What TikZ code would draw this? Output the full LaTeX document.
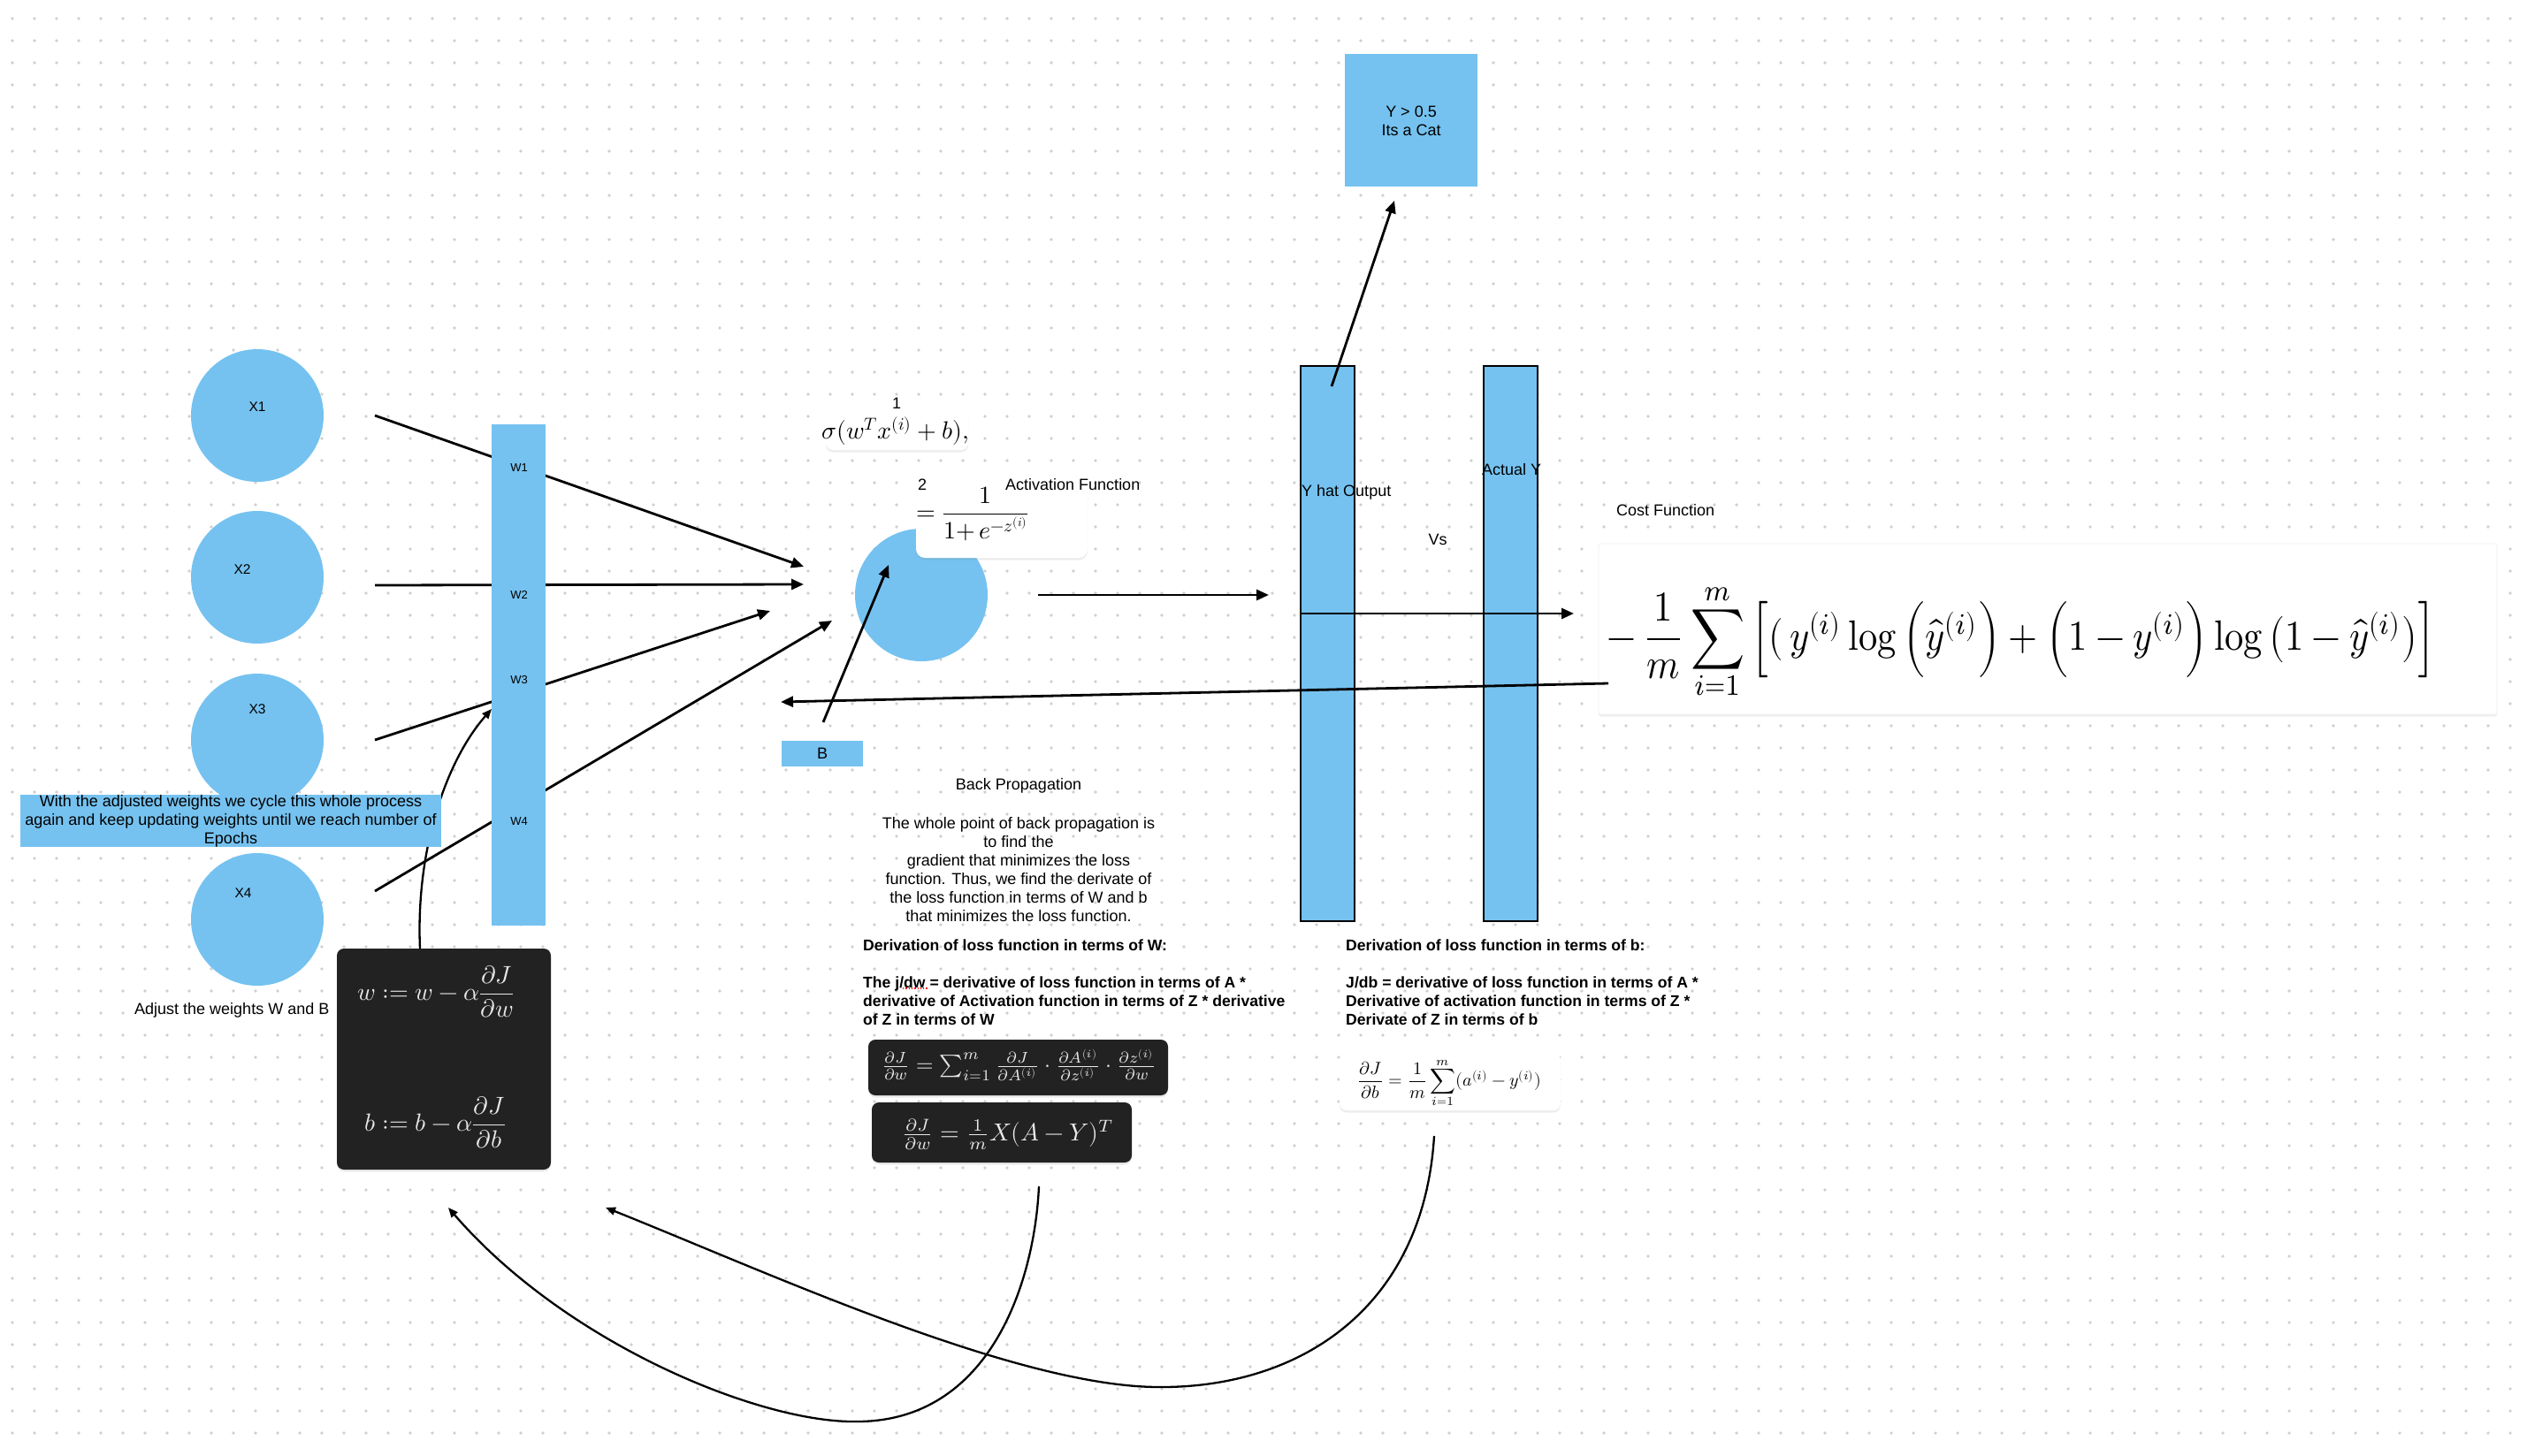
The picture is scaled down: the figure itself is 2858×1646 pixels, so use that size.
\documentclass[tikz,border=0pt]{standalone}
\usepackage{graphicx}
\usepackage{unicode-math}
\setmainfont{Liberation Sans}
\usetikzlibrary{arrows.meta,shadows}
\definecolor{bluec}{HTML}{75C2F0}
\definecolor{darkc}{HTML}{222222}
\definecolor{dotc}{HTML}{CFCFCF}
\definecolor{mathw}{HTML}{E8E8E8}
\newcommand\mylog{\mathop{\symup{log}}\nolimits}
\begin{document}
\begin{tikzpicture}[x=1pt,y=-1pt,
  txt/.style={inner sep=0pt, font=\fontsize{18}{21}\selectfont},
  xlab/.style={inner sep=0pt, font=\fontsize{15.5}{18}\selectfont},
  wlab/.style={inner sep=0pt, font=\fontsize{13}{15}\selectfont},
  btxt/.style={inner sep=0pt, font=\fontsize{17.6}{21}\selectfont\bfseries, align=left},
  bluecirc/.style={circle, fill=bluec, minimum size=150pt, inner sep=0pt},
  bluebox/.style={fill=bluec, inner sep=0pt},
  barbox/.style={fill=bluec, draw=black, line width=1.3pt, inner sep=0pt},
  whitebox/.style={fill=white, rounded corners=8pt, inner sep=0pt,
     drop shadow={opacity=0.14, shadow xshift=0pt, shadow yshift=-2.5pt}},
  darkbox/.style={fill=darkc, rounded corners=8pt, inner sep=0pt,
     drop shadow={opacity=0.15, shadow xshift=0pt, shadow yshift=-2.5pt}},
  conn/.style={line width=2.8pt, -{Triangle[length=14pt,width=12pt]}},
  curv/.style={line width=2.3pt, -{Triangle[length=11pt,width=9pt]}},
  mth/.style={inner sep=0pt},
  dmth/.style={inner sep=0pt, text=mathw},
  dotrow/.style={dotc, line width=3.6pt, line cap=round, dash pattern=on 0pt off 25pt},
]
\useasboundingbox (0,0) rectangle (2858,1646);
\fill[white] (0,0) rectangle (2858,1646);
% dot grid
\foreach \j in {0,...,64}{
  \draw[dotrow] (14,21+25*\j) -- (2852,21+25*\j);
}
% coordinates for free ends
\coordinate (s1) at (424,470);  \coordinate (t1) at (909,641);
\coordinate (s2) at (424,662);  \coordinate (t2) at (909,661);
\coordinate (s3) at (424,837);  \coordinate (t3) at (871,691);
\coordinate (s4) at (424,1008); \coordinate (t4) at (941,702);
% input lines (under the W bar)
\draw[conn] (s1) -- (t1);
\draw[conn] (s2) -- (t2);
\draw[conn] (s3) -- (t3);
\draw[conn] (s4) -- (t4);
% input circles
\node[bluecirc] (x1) at (291,470) {};
\node[bluecirc] (x2) at (291,653) {};
\node[bluecirc] (x3) at (291,837) {};
\node[bluecirc] (x4) at (291,1040) {};
\node[xlab] (x1l) at (291,460) {X1};
\node[xlab] (x2l) at (274,644) {X2};
\node[xlab] (x3l) at (291,802) {X3};
\node[xlab] (x4l) at (275,1010) {X4};
% weight bar
\node[bluebox, minimum width=61pt, minimum height=567pt] (wbar) at (586.5,763.5) {};
\node[wlab] (w1) at (587,529) {W1};
\node[wlab] (w2) at (587,673) {W2};
\node[wlab] (w3) at (587,769) {W3};
\node[wlab] (w4) at (587,929) {W4};
% update box and curve to the W bar
\node[darkbox, minimum width=242pt, minimum height=250pt] (upd) at (502,1198) {};
\node[dmth] (updw) at (493,1122) {\fontsize{28}{30}\selectfont$w := w-\alpha\dfrac{\partial J}{\partial w}$};
\node[dmth] (updb) at (492,1270) {\fontsize{28}{30}\selectfont$b := b-\alpha\dfrac{\partial J}{\partial b}$};
\coordinate (us) at (475,1073);
\coordinate (ut) at (556,802);
\draw[curv] (us) .. controls (470,960) and (505,860) .. (ut);
% cycle text box
\node[bluebox, minimum width=476pt, minimum height=59pt] (cyc) at (261,928.5) {};
\node[txt, align=center] (cyct) at (261,929) {With the adjusted weights we cycle this whole process\\again and keep updating weights until we reach number of\\Epochs};
\node[txt, anchor=west] (adj) at (152,1143) {Adjust the weights W and B};
% neuron
\node[bluecirc] (neuron) at (1042,673) {};
\node[whitebox, minimum width=161pt, minimum height=45pt] (sigbox) at (1014.5,486.5) {};
\node[mth] (sig) at (1013,488) {\fontsize{28}{30}\selectfont$\sigma(w^{T}x^{(i)}+b),$};
\node[txt] (n1) at (1014,456) {1};
\node[whitebox, rounded corners=10pt, minimum width=194pt, minimum height=108pt] (actbox) at (1133,577) {};
\node[txt] (n2) at (1043,548) {2};
\node[mth] (act) at (1100,581) {\fontsize{28}{30}\selectfont$=\dfrac{1}{1{+}\,e^{-z^{(i)}}}$};
\node[txt, anchor=west] (actl) at (1137,548) {Activation Function};
% bias
\node[bluebox, minimum width=92pt, minimum height=29pt] (bbox) at (930,852.5) {};
\node[txt] (bl) at (930,852.5) {B};
\coordinate (bs) at (931,817);
\coordinate (bt) at (1005,639);
\draw[conn] (bs) -- (bt);
% neuron output
\coordinate (os) at (1174,673);
\coordinate (ot) at (1435,673);
\draw[conn] (os) -- (ot);
% output bars
\node[barbox, minimum width=61pt, minimum height=628pt] (yhat) at (1501.5,728) {};
\node[barbox, minimum width=61pt, minimum height=628pt] (ybar) at (1708.5,728) {};
\node[txt, anchor=west] (yhatl) at (1472,557) {Y hat Output};
\node[txt] (ybarl) at (1709.5,531) {Actual Y};
\node[txt] (vs) at (1626,610) {Vs};
% cat box
\node[bluebox, minimum size=150pt] (cat) at (1596,136) {};
\node[txt, align=center] (catl) at (1596,137) {Y > 0.5\\Its a Cat};
\coordinate (cs) at (1506,437);
\coordinate (ct) at (1577,227);
\draw[conn] (cs) -- (ct);
% cost function
\node[txt, anchor=west] (costl) at (1828,577) {Cost Function};
\node[fill=white, draw=black!6, line width=0.8pt, rounded corners=2pt, inner sep=0pt,
      minimum width=1016pt, minimum height=193pt,
      drop shadow={opacity=0.12, shadow xshift=0pt, shadow yshift=-2.5pt}] (costbox) at (2316,711.5) {};
\node[mth] (cost) at (2286,726) {\resizebox*{937pt}{134pt}{$\displaystyle -\,\frac{1}{m}\sum_{i=1}^{m}\Big[(\,y^{(i)}\mylog\Big(\hat{y}^{(i)}\Big)+\Big(1-y^{(i)}\Big)\mylog\big(1-\hat{y}^{(i)}\big)\Big]$}};
\coordinate (fs) at (1472,694);
\coordinate (ft) at (1780,694);
\draw[conn] (fs) -- (ft);
\coordinate (rs) at (1819,773);
\coordinate (rt) at (883,794);
\draw[conn] (rs) -- (rt);
% back propagation text
\node[txt] (bp) at (1152,889) {Back Propagation};
\node[txt, align=center] (bpt) at (1152,983.5) {The whole point of back propagation is\\to find the\\gradient that minimizes the loss\\function. Thus, we find the derivate of\\the loss function in terms of W and b\\that minimizes the loss function.};
\node[btxt, anchor=west] (dwh) at (976,1069) {Derivation of loss function in terms of W:};
\node[btxt, anchor=west] (dwt) at (976,1132) {The j/dw = derivative of loss function in terms of A *\\derivative of Activation function in terms of Z * derivative\\of Z in terms of W};
\draw[red, dotted, line width=1.3pt] (1021,1118) -- (1049,1118);
\node[darkbox, minimum width=339pt, minimum height=63pt] (dw1box) at (1151.5,1207.5) {};
\node[dmth] (dw1) at (1152.5,1205) {\resizebox{311pt}{!}{$\frac{\partial J}{\partial w}=\sum_{i=1}^{m}\frac{\partial J}{\partial A^{(i)}}\cdot\frac{\partial A^{(i)}}{\partial z^{(i)}}\cdot\frac{\partial z^{(i)}}{\partial w}$}};
\node[darkbox, minimum width=294pt, minimum height=68pt] (dw2box) at (1133,1281) {};
\node[dmth] (dw2) at (1140,1283) {\resizebox{240pt}{!}{$\frac{\partial J}{\partial w}=\frac{1}{m}X(A-Y)^{T}$}};
\node[btxt, anchor=west] (dbh) at (1522,1069) {Derivation of loss function in terms of b:};
\node[btxt, anchor=west] (dbt) at (1522,1132) {J/db = derivative of loss function in terms of A *\\Derivative of activation function in terms of Z *\\Derivate of Z in terms of b};
\node[whitebox, minimum width=250pt, minimum height=65pt] (dbbox) at (1640,1223.5) {};
\node[mth] (db) at (1639,1225) {\resizebox{208pt}{!}{$\displaystyle\frac{\partial J}{\partial b}=\frac{1}{m}\sum_{i=1}^{m}(a^{(i)}-y^{(i)})$}};
% return curves
\coordinate (as) at (1175,1342);
\coordinate (at) at (507,1366);
\draw[curv] (as) .. controls (1170,1450) and (1120,1608) .. (969,1608) .. controls (860,1610) and (640,1520) .. (at);
\coordinate (cbs) at (1622,1285);
\coordinate (cbt) at (685,1366);
\draw[curv] (cbs) .. controls (1610,1480) and (1470,1570) .. (1311,1569) .. controls (1150,1569) and (870,1440) .. (cbt);
\end{tikzpicture}
\end{document}
